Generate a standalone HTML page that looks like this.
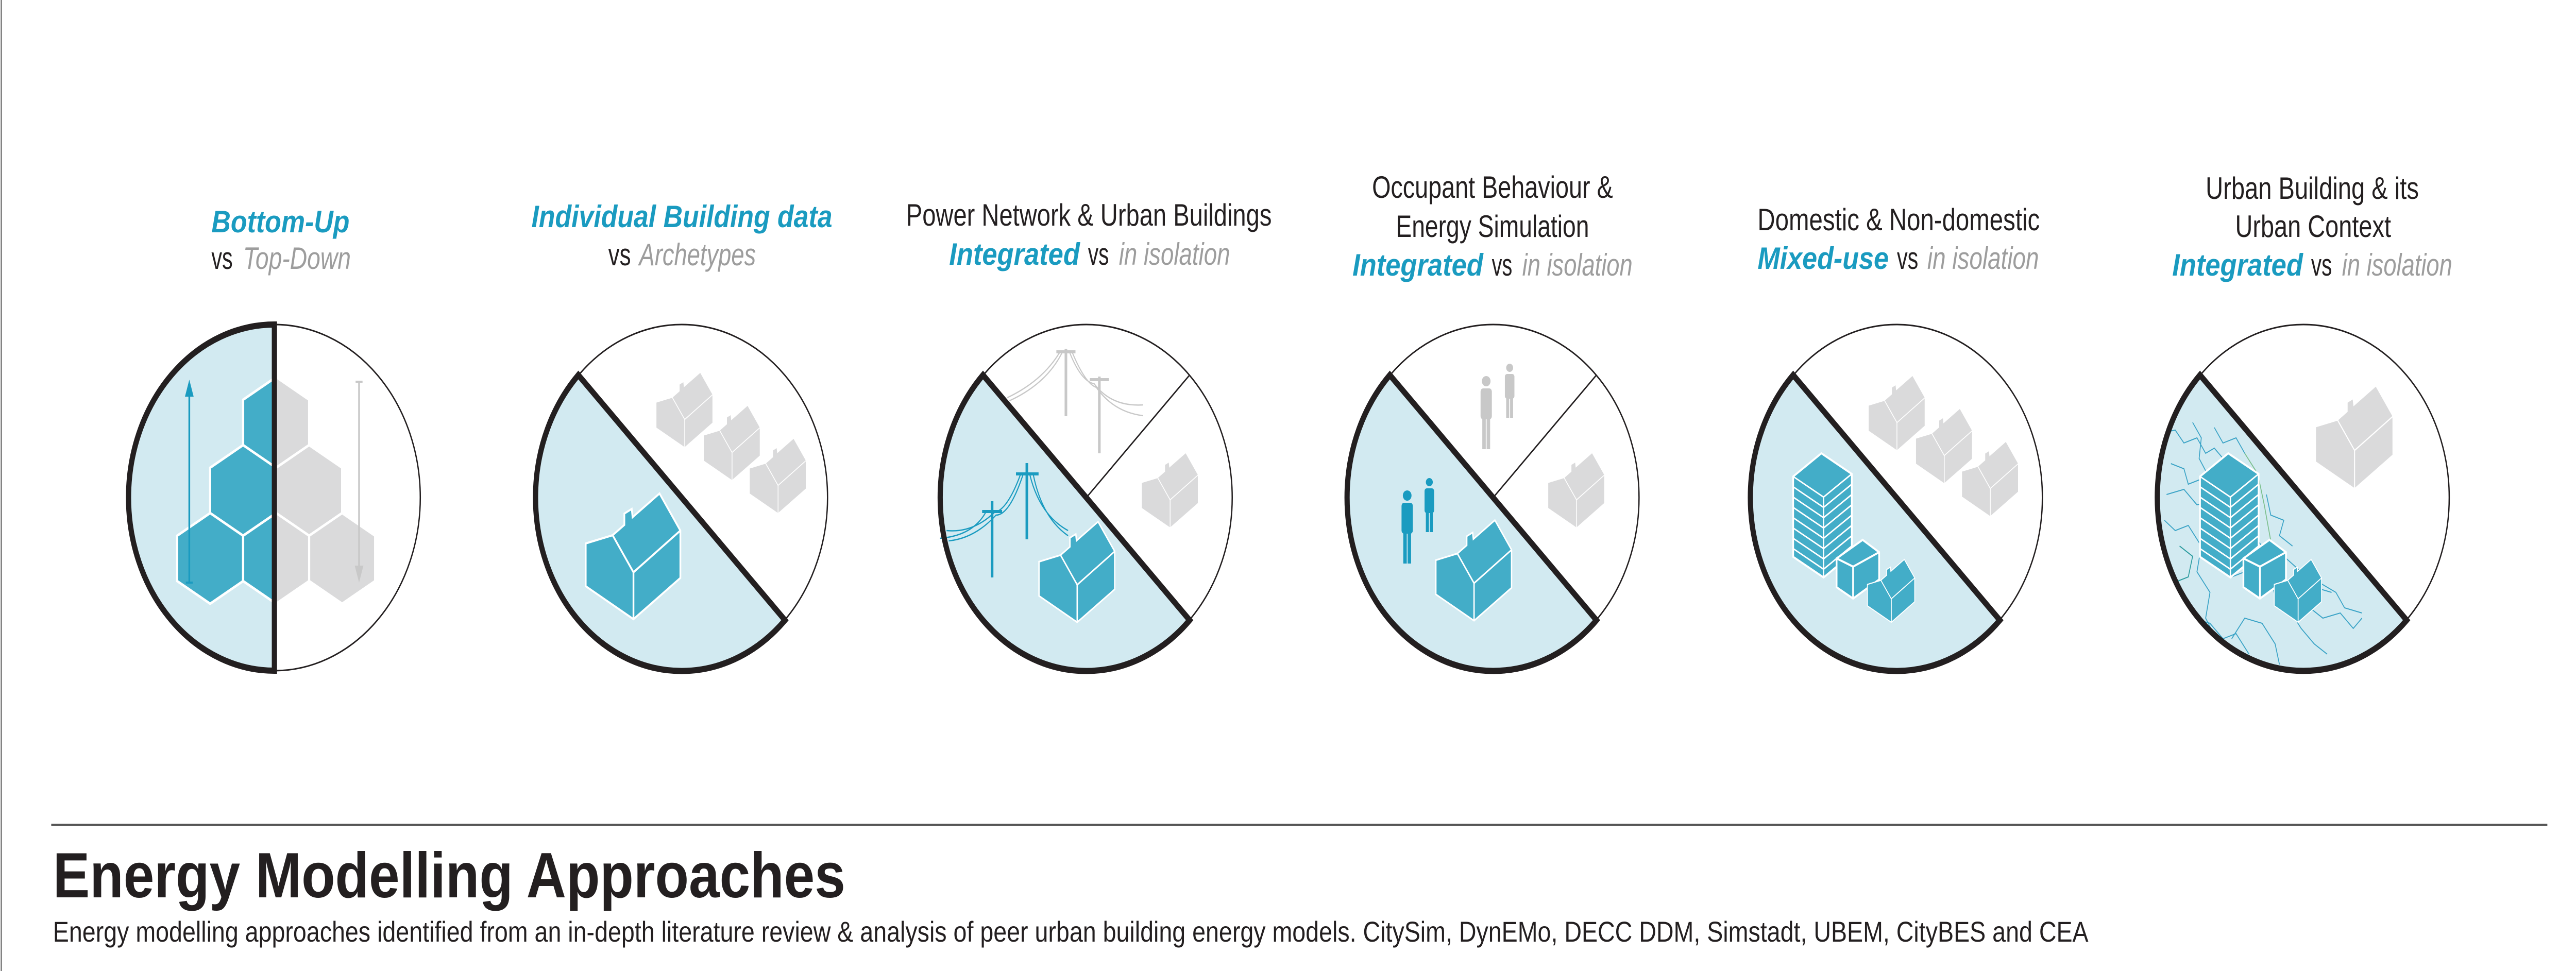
<!DOCTYPE html>
<html><head><meta charset="utf-8"><style>
html,body{margin:0;padding:0;background:#fff;overflow:hidden;width:100%;height:100%;}
svg{display:block;width:100vw;height:100vh;}
text{font-family:"Liberation Sans",sans-serif;}
</style></head><body>
<svg viewBox="0 0 5933 1885" preserveAspectRatio="none" xmlns="http://www.w3.org/2000/svg">
<defs>
<g id="hs"><path d="M0,0 L-110,-64 L-110,-147 L-48,-163 L-21,-183 L-21,-205 L-4,-214 L-2,-198 L60,-244 L108,-172 L108,-80 Z"/></g>
<path id="hl" d="M-110,-147 L-48,-163 L0,-91 L0,0 M0,-91 L108,-172" fill="none"/>
<clipPath id="c6"><path d="M5067,728 A336 336 0 0 0 5543,1204 Z"/></clipPath>
</defs>
<rect width="5933" height="1885" fill="#fff"/>
<line x1="3" y1="0" x2="3" y2="1885" stroke="#777" stroke-width="3"/>

<g>
<circle cx="632" cy="966" r="336" fill="#fff" stroke="#231f20" stroke-width="3"/>
<path d="M632,630 A336 336 0 0 0 632,1302 Z" fill="#d2eaf1"/>
<g stroke="#fff" stroke-width="5">
<polygon points="636,732 712,776 712,864 636,908 560,864 560,776" fill="#dadadb"/>
<polygon points="560,864 636,908 636,996 560,1040 484,996 484,908" fill="#43adc8"/>
<polygon points="712,864 788,908 788,996 712,1040 636,996 636,908" fill="#dadadb"/>
<polygon points="484,996 560,1040 560,1128 484,1172 408,1128 408,1040" fill="#43adc8"/>
<polygon points="636,996 712,1040 712,1128 636,1172 560,1128 560,1040" fill="#dadadb"/>
<polygon points="788,996 864,1040 864,1128 788,1172 712,1128 712,1040" fill="#dadadb"/>
</g>
<path d="M636,732 L560,776 L560,864 L636,908 Z" fill="#43adc8" stroke="#fff" stroke-width="5"/>
<path d="M636,996 L560,1040 L560,1128 L636,1172 Z" fill="#43adc8" stroke="#fff" stroke-width="5"/>
<line x1="436" y1="1131" x2="436" y2="760" stroke="#1a9bc0" stroke-width="4"/>
<polygon points="436,737 426,770 446,770" fill="#1a9bc0"/>
<line x1="428" y1="1131" x2="444" y2="1131" stroke="#1a9bc0" stroke-width="4"/>
<line x1="827" y1="741" x2="827" y2="1105" stroke="#c8c8c8" stroke-width="4"/>
<line x1="819" y1="741" x2="835" y2="741" stroke="#c8c8c8" stroke-width="4"/>
<polygon points="827,1131 817,1098 837,1098" fill="#c8c8c8"/>
<path d="M632,630 A336 336 0 0 0 632,1302 Z" fill="none" stroke="#231f20" stroke-width="12"/>
</g>

<g>
<circle cx="1570" cy="966" r="336" fill="#fff" stroke="#231f20" stroke-width="3"/>
<path d="M1332,728 A336 336 0 0 0 1808,1204 Z" fill="#d2eaf1"/>
<g fill="#dadadb" stroke="#fff" stroke-width="3">
<use href="#hs" transform="translate(1577,869) scale(0.6)"/><use href="#hl" transform="translate(1577,869) scale(0.6)"/>
<use href="#hs" transform="translate(1686,933) scale(0.6)"/><use href="#hl" transform="translate(1686,933) scale(0.6)"/>
<use href="#hs" transform="translate(1792,997) scale(0.6)"/><use href="#hl" transform="translate(1792,997) scale(0.6)"/>
</g>
<g fill="#43adc8" stroke="#fff" stroke-width="4">
<use href="#hs" transform="translate(1459,1202)"/><use href="#hl" transform="translate(1459,1202)"/>
</g>
<path d="M1332,728 A336 336 0 0 0 1808,1204 Z" fill="none" stroke="#231f20" stroke-width="12"/>
</g>

<g>
<circle cx="2502" cy="966" r="336" fill="#fff" stroke="#231f20" stroke-width="3"/>
<path d="M2264,728 A336 336 0 0 0 2740,1204 Z" fill="#d2eaf1"/>
<line x1="2502" y1="966" x2="2740" y2="728" stroke="#231f20" stroke-width="3"/>
<g stroke="#c8c8c8" fill="none">
<line x1="2455" y1="677" x2="2455" y2="808" stroke-width="6"/>
<line x1="2433" y1="683" x2="2477" y2="683" stroke-width="6"/>
<line x1="2532" y1="731" x2="2532" y2="880" stroke-width="6"/>
<line x1="2510" y1="737" x2="2554" y2="737" stroke-width="6"/>
<path d="M2440,685 Q2400,740 2320,772 M2446,685 Q2410,745 2325,778 M2464,685 Q2490,740 2520,745 Q2560,790 2633,786 M2470,685 Q2500,745 2525,752 Q2565,800 2633,807" stroke-width="2.5"/>
</g>
<g fill="#dadadb" stroke="#fff" stroke-width="3">
<use href="#hs" transform="translate(2695,1025) scale(0.6)"/><use href="#hl" transform="translate(2695,1025) scale(0.6)"/>
</g>
<g stroke="#1a9bc0" fill="none">
<line x1="2365" y1="899" x2="2365" y2="1047" stroke-width="6"/>
<line x1="2340" y1="920" x2="2392" y2="920" stroke-width="6"/>
<line x1="2285" y1="973" x2="2285" y2="1121" stroke-width="6"/>
<line x1="2262" y1="993" x2="2308" y2="993" stroke-width="6"/>
<path d="M2350,922 Q2320,990 2290,995 Q2240,1035 2180,1030 M2356,922 Q2325,1000 2294,1000 Q2245,1045 2185,1050 M2372,922 Q2395,1000 2460,1030 M2380,922 Q2400,1005 2460,1040 M2270,995 Q2240,1040 2165,1045" stroke-width="2.5"/>
</g>
<g fill="#43adc8" stroke="#fff" stroke-width="4">
<use href="#hs" transform="translate(2481,1208) scale(0.8)"/><use href="#hl" transform="translate(2481,1208) scale(0.8)"/>
</g>
<path d="M2264,728 A336 336 0 0 0 2740,1204 Z" fill="none" stroke="#231f20" stroke-width="12"/>
</g>

<g>
<circle cx="3439" cy="966" r="336" fill="#fff" stroke="#231f20" stroke-width="3"/>
<path d="M3201,728 A336 336 0 0 0 3677,1204 Z" fill="#d2eaf1"/>
<line x1="3439" y1="966" x2="3677" y2="728" stroke="#231f20" stroke-width="3"/>
<g fill="#c8c8c8">
<circle cx="3423" cy="740" r="10"/><rect x="3410" y="754" width="26" height="60" rx="6"/><rect x="3414" y="800" width="8" height="72"/><rect x="3424" y="800" width="8" height="72"/>
<circle cx="3477" cy="714" r="8"/><rect x="3466" y="726" width="22" height="48" rx="5"/><rect x="3469" y="762" width="7" height="49"/><rect x="3478" y="762" width="7" height="49"/>
</g>
<g fill="#dadadb" stroke="#fff" stroke-width="3">
<use href="#hs" transform="translate(3631,1025) scale(0.6)"/><use href="#hl" transform="translate(3631,1025) scale(0.6)"/>
</g>
<g fill="#1a9bc0">
<circle cx="3241" cy="962" r="10"/><rect x="3228" y="976" width="26" height="60" rx="6"/><rect x="3232" y="1022" width="8" height="72"/><rect x="3242" y="1022" width="8" height="72"/>
<circle cx="3292" cy="936" r="8"/><rect x="3281" y="948" width="22" height="48" rx="5"/><rect x="3284" y="984" width="7" height="49"/><rect x="3293" y="984" width="7" height="49"/>
</g>
<g fill="#43adc8" stroke="#fff" stroke-width="4">
<use href="#hs" transform="translate(3395,1205) scale(0.8)"/><use href="#hl" transform="translate(3395,1205) scale(0.8)"/>
</g>
<path d="M3201,728 A336 336 0 0 0 3677,1204 Z" fill="none" stroke="#231f20" stroke-width="12"/>
</g>

<g>
<circle cx="4368" cy="966" r="336" fill="#fff" stroke="#231f20" stroke-width="3"/>
<path d="M4130,728 A336 336 0 0 0 4606,1204 Z" fill="#d2eaf1"/>
<g fill="#dadadb" stroke="#fff" stroke-width="3">
<use href="#hs" transform="translate(4369,875) scale(0.6)"/><use href="#hl" transform="translate(4369,875) scale(0.6)"/>
<use href="#hs" transform="translate(4478,939) scale(0.6)"/><use href="#hl" transform="translate(4478,939) scale(0.6)"/>
<use href="#hs" transform="translate(4584,1003) scale(0.6)"/><use href="#hl" transform="translate(4584,1003) scale(0.6)"/>
</g>
<g id="blds" stroke="#fff" stroke-width="4" fill="#43adc8">
<polygon points="4195,880 4265,920 4265,1076 4200,1121 4130,1081 4130,925"/>
<path d="M4130,925 L4200,965 L4265,920 M4200,965 L4200,1121 M4130,945 L4200,985 L4265,940 M4130,965 L4200,1005 L4265,960 M4130,985 L4200,1025 L4265,980 M4130,1005 L4200,1045 L4265,1000 M4130,1025 L4200,1065 L4265,1020 M4130,1045 L4200,1085 L4265,1040 M4130,1065 L4200,1105 L4265,1060" fill="none" stroke-width="3"/>
<polygon points="4290,1048 4328,1072 4328,1125 4268,1162 4230,1140 4230,1084"/>
<path d="M4230,1084 L4268,1100 L4328,1072 M4268,1100 L4268,1162" fill="none"/>
<use href="#hs" transform="translate(4356,1208) scale(0.5)"/><use href="#hl" transform="translate(4356,1208) scale(0.5)"/>
</g>
<path d="M4130,728 A336 336 0 0 0 4606,1204 Z" fill="none" stroke="#231f20" stroke-width="12"/>
</g>

<g>
<circle cx="5305" cy="966" r="336" fill="#fff" stroke="#231f20" stroke-width="3"/>
<path d="M5067,728 A336 336 0 0 0 5543,1204 Z" fill="#d2eaf1"/>
<g clip-path="url(#c6)" fill="none" stroke="#3aa3c6" stroke-width="2">
<path d="M4980,840 L5010,835 L5030,860 L5060,850 L5080,880 L5100,870 L5130,900 L5160,920 L5190,960"/>
<path d="M5050,820 L5070,850 L5065,890 L5090,930 L5080,980 L5110,1010 L5140,1060"/>
<path d="M4990,960 L5030,950 L5060,980 L5090,975 L5120,1000"/>
<path d="M4985,1010 L5010,1030 L5040,1020 L5070,1060 L5060,1110 L5090,1150 L5080,1200 L5110,1250"/>
<path d="M5000,1140 L5030,1160 L5050,1200 L5090,1210 L5120,1240 L5150,1230 L5180,1270"/>
<path d="M5150,1050 L5190,1040 L5220,1070 L5260,1080 L5300,1110 L5330,1140 L5370,1150"/>
<path d="M5230,1120 L5240,1160 L5270,1180 L5300,1220 L5330,1250 L5360,1270"/>
<path d="M5140,1240 L5170,1200 L5210,1210 L5240,1250 L5250,1290"/>
<path d="M5320,1180 L5350,1200 L5390,1190 L5420,1220 L5440,1200"/>
<path d="M5000,900 L5030,910 L5040,940 L5070,930"/>
<path d="M5100,830 L5120,860 L5150,850 L5170,880"/>
<path d="M5220,960 L5230,1000 L5260,1010 L5250,1040 L5280,1060"/>
<path d="M5110,1100 L5140,1120 L5170,1110 L5200,1140 L5230,1130"/>
<path d="M5330,1100 L5340,1130 L5380,1150 L5400,1180 L5440,1190"/>
<path d="M5020,1060 L5050,1080 L5040,1120 L5010,1130" stroke="#2a9b9e"/>
<path d="M5170,880 L5200,920 L5215,980 L5230,1050 L5260,1090" stroke="#7bbf8c"/>
</g>
<g fill="#dadadb" stroke="#fff" stroke-width="3">
<use href="#hs" transform="translate(5423,949) scale(0.82)"/><use href="#hl" transform="translate(5423,949) scale(0.82)"/>
</g>
<use href="#blds" transform="translate(937,0)"/>
<path d="M5067,728 A336 336 0 0 0 5543,1204 Z" fill="none" stroke="#231f20" stroke-width="12"/>
</g>

<g font-size="60">
<text x="487" y="451" textLength="318" lengthAdjust="spacingAndGlyphs" font-weight="bold" font-style="italic" fill="#1a9bc0">Bottom-Up</text>
<text x="487" y="522" textLength="49" lengthAdjust="spacingAndGlyphs" fill="#231f20">vs</text>
<text x="560" y="522" textLength="248" lengthAdjust="spacingAndGlyphs" font-style="italic" fill="#9d9d9d">Top-Down</text>

<text x="1224" y="441" textLength="693" lengthAdjust="spacingAndGlyphs" font-weight="bold" font-style="italic" fill="#1a9bc0">Individual Building data</text>
<text x="1401" y="515" textLength="52" lengthAdjust="spacingAndGlyphs" fill="#231f20">vs</text>
<text x="1472" y="515" textLength="269" lengthAdjust="spacingAndGlyphs" font-style="italic" fill="#9d9d9d">Archetypes</text>

<text x="2087" y="438" textLength="842" lengthAdjust="spacingAndGlyphs" fill="#231f20">Power Network &amp; Urban Buildings</text>
<text x="2186" y="514" textLength="301" lengthAdjust="spacingAndGlyphs" font-weight="bold" font-style="italic" fill="#1a9bc0">Integrated</text>
<text x="2506" y="514" textLength="48" lengthAdjust="spacingAndGlyphs" fill="#231f20">vs</text>
<text x="2577" y="514" textLength="256" lengthAdjust="spacingAndGlyphs" font-style="italic" fill="#9d9d9d">in isolation</text>

<text x="3160" y="384" textLength="555" lengthAdjust="spacingAndGlyphs" fill="#231f20">Occupant Behaviour &amp;</text>
<text x="3215" y="460" textLength="445" lengthAdjust="spacingAndGlyphs" fill="#231f20">Energy Simulation</text>
<text x="3115" y="535" textLength="301" lengthAdjust="spacingAndGlyphs" font-weight="bold" font-style="italic" fill="#1a9bc0">Integrated</text>
<text x="3436" y="535" textLength="47" lengthAdjust="spacingAndGlyphs" fill="#231f20">vs</text>
<text x="3506" y="535" textLength="254" lengthAdjust="spacingAndGlyphs" font-style="italic" fill="#9d9d9d">in isolation</text>

<text x="4048" y="447" textLength="650" lengthAdjust="spacingAndGlyphs" fill="#231f20">Domestic &amp; Non-domestic</text>
<text x="4048" y="522" textLength="302" lengthAdjust="spacingAndGlyphs" font-weight="bold" font-style="italic" fill="#1a9bc0">Mixed-use</text>
<text x="4369" y="522" textLength="49" lengthAdjust="spacingAndGlyphs" fill="#231f20">vs</text>
<text x="4439" y="522" textLength="257" lengthAdjust="spacingAndGlyphs" font-style="italic" fill="#9d9d9d">in isolation</text>

<text x="5080" y="386" textLength="491" lengthAdjust="spacingAndGlyphs" fill="#231f20">Urban Building &amp; its</text>
<text x="5148" y="460" textLength="359" lengthAdjust="spacingAndGlyphs" fill="#231f20">Urban Context</text>
<text x="5003" y="535" textLength="301" lengthAdjust="spacingAndGlyphs" font-weight="bold" font-style="italic" fill="#1a9bc0">Integrated</text>
<text x="5323" y="535" textLength="48" lengthAdjust="spacingAndGlyphs" fill="#231f20">vs</text>
<text x="5394" y="535" textLength="254" lengthAdjust="spacingAndGlyphs" font-style="italic" fill="#9d9d9d">in isolation</text>
</g>

<line x1="118" y1="1601" x2="5867" y2="1601" stroke="#555" stroke-width="4"/>
<text x="122" y="1742" font-size="124" font-weight="bold" textLength="1825" lengthAdjust="spacingAndGlyphs" fill="#231f20">Energy Modelling Approaches</text>
<text x="122" y="1828" font-size="56" textLength="4688" lengthAdjust="spacingAndGlyphs" fill="#231f20">Energy modelling approaches identified from an in-depth literature review &amp; analysis of peer urban building energy models. CitySim, DynEMo, DECC DDM, Simstadt, UBEM, CityBES and CEA</text>
</svg>
</body></html>
